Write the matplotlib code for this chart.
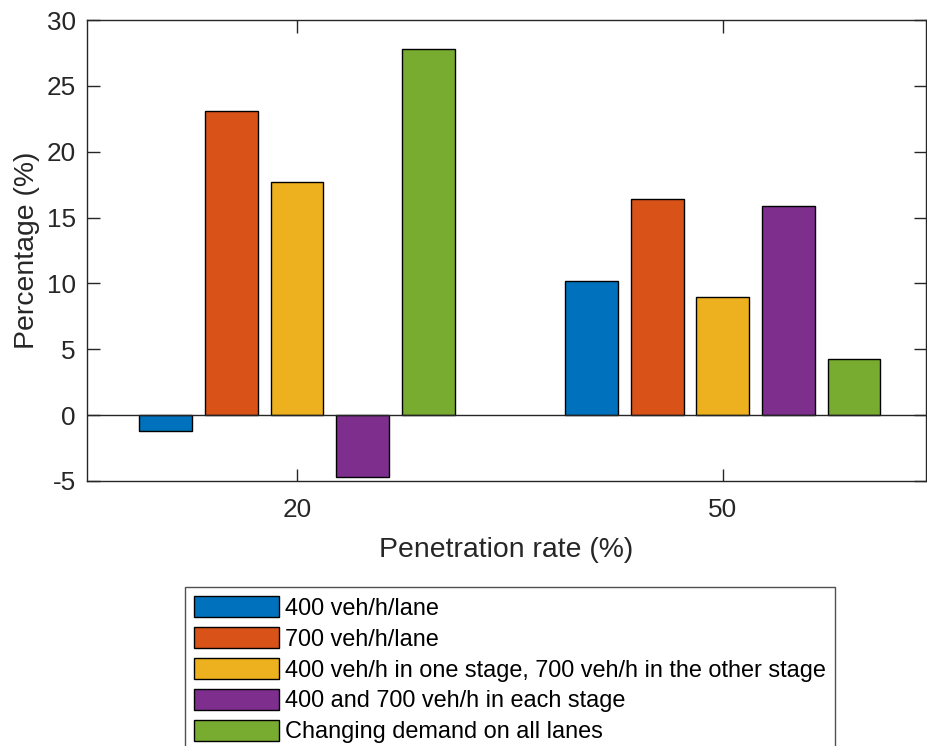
import matplotlib
matplotlib.use("Agg")
import matplotlib.pyplot as plt
import numpy as np

plt.rcParams['font.family'] = ['Liberation Sans', 'DejaVu Sans']

groups = ["20", "50"]
series_names = [
    "400 veh/h/lane",
    "700 veh/h/lane",
    "400 veh/h in one stage, 700 veh/h in the other stage",
    "400 and 700 veh/h in each stage",
    "Changing demand on all lanes",
]
values_400 = [-1.2, 10.2]
values_700 = [23.1, 16.4]
values_mixed = [17.7, 9.0]
values_each = [-4.7, 15.9]
values_changing = [27.8, 4.3]
all_values = [values_400, values_700, values_mixed, values_each, values_changing]
colors = ["#0072BD", "#D95319", "#EDB120", "#7E2F8E", "#77AC30"]
yticks = [-5, 0, 5, 10, 15, 20, 25, 30]

fig = plt.figure(figsize=(9.27, 7.46), dpi=100)
ax = fig.add_axes([87/927, 1-481/746, (926-87)/927, (481-20)/746])

x = np.arange(1, len(groups)+1)
spacing = 0.154
width = 0.124
handles = []
for i, (vals, c, name) in enumerate(zip(all_values, colors, series_names)):
    b = ax.bar(x + (i-2)*spacing, vals, width, color=c, edgecolor='black', linewidth=1.0, label=name, zorder=2)
    handles.append(b)

ax.axhline(0, color='#262626', lw=1.0, zorder=3)
ax.set_xlim(0.507, 2.477)
ax.set_ylim(-5, 30)
ax.set_yticks(yticks)
ax.set_yticklabels([str(t) for t in yticks])
ax.set_xticks(x)
ax.set_xticklabels(groups)

for s in ax.spines.values():
    s.set_color('#262626')
    s.set_linewidth(1.0)
ax.tick_params(direction='in', length=9, width=1.0, colors='#262626', labelsize=18.8,
               top=True, right=True, labelcolor='#262626')
ax.tick_params(axis='y', pad=8)
ax.tick_params(axis='x', pad=12)

ax.set_xlabel("Penetration rate (%)", fontsize=20.4, color='#262626', labelpad=11)
ax.set_ylabel("Percentage (%)", fontsize=20.4, color='#262626', labelpad=5)

leg = fig.legend(handles=handles, labels=series_names, loc='upper left',
                 bbox_to_anchor=(185/927, 1-587/746), bbox_transform=fig.transFigure,
                 fontsize=16.95, handlelength=3.6, handleheight=1.0, labelspacing=0.31,
                 handletextpad=0.26, borderpad=0.39, borderaxespad=0, fancybox=False,
                 frameon=True)
leg.get_frame().set_edgecolor('#262626')
leg.get_frame().set_linewidth(1.0)

fig.savefig("out.png", dpi=100)
